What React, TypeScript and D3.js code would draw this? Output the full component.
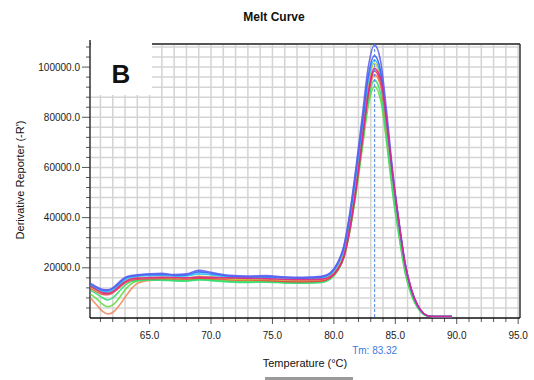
import React from "react";
import * as d3 from "d3";

// Temperatures (°C) at which the derivative of each well is sampled
const temps = [
  60.2, 60.7, 61.2, 61.6, 62.0, 62.5, 63.0, 63.5, 64.0, 65.0, 66.0, 67.0, 68.0, 69.0,
  70.0, 71.5, 73.0, 74.5, 76.0, 77.5, 79.0, 79.7, 80.3, 80.8, 81.3, 81.8, 82.3, 82.8,
  83.3, 83.8, 84.3, 84.8, 85.3, 85.8, 86.3, 86.8, 87.3, 87.8, 88.5, 89.6,
];

// Derivative reporter (-R') per well
const wellViolet = [
  13800, 12400, 11300, 11200, 12000, 14200, 16200, 16900, 17200, 17600, 17800, 17300, 17600, 19000,
  18200, 17000, 16700, 16900, 16300, 16200, 16600, 18000, 22000, 28500, 42000, 60000, 80000, 100000,
  108800, 102500, 82000, 58000, 38500, 22000, 11500, 5200, 1800, 700, 600, 600,
];
const wellBlue = [
  13500, 12100, 11100, 11000, 11800, 13800, 15800, 16600, 17000, 17300, 17400, 17100, 17200, 18400,
  17800, 16800, 16400, 16500, 16200, 16000, 16400, 17800, 21800, 28000, 41000, 58500, 77500, 96500,
  104500, 98500, 79000, 56500, 37500, 21500, 11300, 5100, 1800, 700, 600, 600,
];
const wellCyan = [
  12900, 11500, 10500, 10400, 11200, 13200, 15200, 16200, 16600, 16900, 17000, 16700, 16800, 17600,
  17200, 16300, 16000, 16100, 15800, 15700, 16000, 17300, 21000, 27000, 39500, 56500, 75500, 94500,
  102800, 97000, 78000, 55500, 37000, 21000, 11000, 5000, 1700, 700, 600, 600,
];
const wellYellow = [
  12200, 10800, 9900, 9800, 10600, 12600, 14500, 15500, 15900, 16100, 16200, 16000, 15900, 16600,
  16300, 15600, 15300, 15400, 15100, 15000, 15400, 16800, 20200, 26000, 38000, 55000, 74000, 93000,
  101500, 96000, 77000, 55000, 36500, 20500, 10800, 4900, 1700, 700, 600, 600,
];
const wellMagenta = [
  12600, 11200, 10000, 9800, 10500, 12500, 14400, 15500, 15900, 16100, 16200, 16100, 16000, 16300,
  16200, 16000, 15800, 15700, 15400, 15300, 15500, 16500, 19500, 24500, 36000, 52000, 71000, 90000,
  99500, 95500, 78000, 56500, 38000, 21500, 11500, 5200, 1800, 700, 600, 600,
];
const wellRed = [
  11800, 10400, 9400, 9300, 10000, 12000, 14000, 15100, 15500, 15700, 15800, 15700, 15600, 15900,
  15800, 15400, 15100, 15000, 14600, 14500, 14800, 16000, 19000, 24000, 35000, 51000, 70000, 89000,
  98500, 94000, 76500, 55500, 37500, 21000, 11200, 5100, 1800, 700, 600, 600,
];
const wellTeal = [
  11000, 9600, 8000, 7200, 8000, 10500, 13000, 14500, 15000, 15200, 15100, 14800, 14700, 15200,
  14900, 14400, 14200, 14300, 14000, 13900, 14200, 15500, 18800, 24000, 35000, 50500, 68500, 86500,
  94800, 89500, 71500, 50500, 33500, 18500, 9600, 4300, 1500, 700, 600, 600,
];
const wellGreen = [
  9500, 7600, 5400, 4500, 5200, 7800, 11200, 13600, 14800, 15300, 15400, 15100, 15000, 15500,
  15200, 14600, 14400, 14500, 14100, 14000, 14300, 15600, 18800, 24000, 34500, 49500, 67000, 84500,
  92200, 87000, 69500, 49000, 32500, 18000, 9300, 4200, 1500, 700, 600, 600,
];
const wellOrange = [
  7900, 5200, 2500, 1600, 2200, 4800, 8200, 11500, 13800, 15000, 15300, 15200, 15100, 15700,
  15300, 15000, 14900, 14900, 14600, 14500, 14800, 16000, 19200, 24200, 35500, 51000, 69500, 88000,
  97000, 92500, 75000, 54500, 36800, 20800, 11000, 5000, 1700, 700, 600, 600,
];

const wells = [
  { color: "#f08a5c", values: wellOrange },
  { color: "#66dd44", values: wellGreen },
  { color: "#33dd77", values: wellTeal },
  { color: "#ee3a48", values: wellRed },
  { color: "#c8cc2c", values: wellYellow },
  { color: "#2cc0ec", values: wellCyan },
  { color: "#2f62ff", values: wellBlue },
  { color: "#6060ee", values: wellViolet },
  { color: "#e0228e", values: wellMagenta },
];

const xTickLabels = [65, 70, 75, 80, 85, 90, 95];
const yTickLabels = [20000, 40000, 60000, 80000, 100000];
const tm = 83.32;

const W = 534;
const H = 380;
const margin = { left: 90, right: 14, top: 44, bottom: 62 };

export default function App() {
  const x = d3.scaleLinear().domain([60.15, 95.15]).range([margin.left, W - margin.right]);
  const y = d3.scaleLinear().domain([0, 109200]).range([H - margin.bottom, margin.top]);
  const x0 = x.range()[0];
  const x1 = x.range()[1];
  const y0 = y.range()[0];
  const y1 = y.range()[1];

  const vGrid = d3.range(61, 96, 1);
  const hGrid = d3.range(4000, 109000, 4000);

  const line = d3
    .line<number>()
    .x((_, i) => x(temps[i]))
    .y((v) => y(v))
    .curve(d3.curveMonotoneX);

  const font = "'Liberation Sans', Arial, sans-serif";

  return (
    <svg
      width={W}
      height={H}
      style={{ position: "absolute", left: 0, top: 0, background: "#fff" }}
      fontFamily={font}
    >
      <text x={274} y={21} textAnchor="middle" fontSize={12} fontWeight="bold" fill="#111">
        Melt Curve
      </text>

      <defs>
        <clipPath id="plot">
          <rect x={x0} y={y1} width={x1 - x0} height={y0 - y1} />
        </clipPath>
      </defs>

      {/* grid */}
      {vGrid.map((t) => (
        <line key={"v" + t} x1={x(t)} x2={x(t)} y1={y1} y2={y0} stroke="#d4d4d4" strokeWidth={1.5} />
      ))}
      {hGrid.map((v) => (
        <line key={"h" + v} x1={x0} x2={x1} y1={y(v)} y2={y(v)} stroke="#d4d4d4" strokeWidth={1.5} />
      ))}

      {/* ticks */}
      {vGrid.map((t) => (
        <line
          key={"xt" + t}
          x1={x(t)}
          x2={x(t)}
          y1={y0}
          y2={y0 + (t % 5 === 0 ? 6 : 4)}
          stroke="#555"
        />
      ))}
      {hGrid.map((v) => (
        <line
          key={"yt" + v}
          x1={x0}
          x2={x0 - (v % 20000 === 0 ? 8 : 4)}
          y1={y(v)}
          y2={y(v)}
          stroke="#555"
        />
      ))}

      {/* frame */}
      <line x1={x0} x2={x1} y1={y1} y2={y1} stroke="#555" strokeWidth={2} />
      <line x1={x1} x2={x1} y1={y1} y2={y0} stroke="#333" strokeWidth={1.5} />
      <line x1={x0} x2={x0} y1={y1 - 4} y2={y0} stroke="#333" strokeWidth={1.5} />
      <line x1={x0} x2={x1} y1={y0} y2={y0} stroke="#111" strokeWidth={1.5} />

      {/* tick labels */}
      {xTickLabels.map((t) => (
        <text key={"xl" + t} x={x(t)} y={339} textAnchor="middle" fontSize={10} fill="#222">
          {t.toFixed(1)}
        </text>
      ))}
      {yTickLabels.map((v) => (
        <text key={"yl" + v} x={80} y={y(v) + 3.5} textAnchor="end" fontSize={10} fill="#222">
          {v.toFixed(1)}
        </text>
      ))}

      {/* melt curves */}
      <g clipPath="url(#plot)">
        {wells.map((w, i) => (
          <path
            key={i}
            d={line(w.values) || ""}
            fill="none"
            stroke={w.color}
            strokeWidth={1.6}
            strokeOpacity={0.9}
          />
        ))}
      </g>

      {/* Tm marker */}
      <line
        x1={x(tm)}
        x2={x(tm)}
        y1={y1}
        y2={y0}
        stroke="#4a86e8"
        strokeWidth={1}
        strokeDasharray="3,2"
      />
      <text x={x(tm)} y={354} textAnchor="middle" fontSize={10} fill="#3a7ae0">
        Tm: {tm.toFixed(2)}
      </text>

      {/* panel label */}
      <rect x={x0 + 1} y={y1 - 2} width={61} height={53} fill="#fff" />
      <text x={121} y={83} textAnchor="middle" fontSize={26} fontWeight="bold" fill="#111">
        B
      </text>

      {/* axis titles */}
      <text x={305} y={367} textAnchor="middle" fontSize={11} fill="#111">
        Temperature (°C)
      </text>
      <text
        transform="translate(24,180) rotate(-90)"
        textAnchor="middle"
        fontSize={11}
        fill="#111"
      >
        Derivative Reporter (-R')
      </text>

      <rect x={265} y={377} width={88} height={3} fill="#9a9a9a" />
    </svg>
  );
}
